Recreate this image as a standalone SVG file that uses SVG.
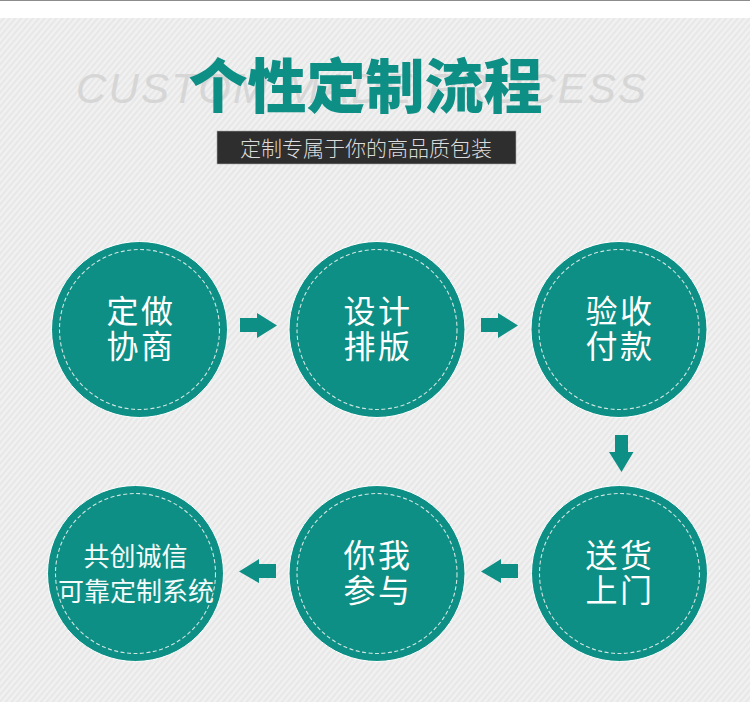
<svg xmlns="http://www.w3.org/2000/svg" width="750" height="728" viewBox="0 0 750 728">
<style>
.cn{font-family:"Noto Sans CJK SC","Noto Sans",sans-serif}
.n{fill:#0d8f85;stroke:#fff;stroke-width:1}
.d{fill:none;stroke:#cfe6e2;stroke-width:1.1;stroke-dasharray:4 2.5}
.t{fill:#fff;font-size:32px;text-anchor:middle;letter-spacing:2.500px;font-weight:400}
.s{fill:#f4fbfa;font-size:26px;text-anchor:middle;font-weight:400}
.a{fill:#0d8f85}
</style>
<defs>
<pattern id="bg" width="4.500" height="4.500" patternUnits="userSpaceOnUse" patternTransform="rotate(-50)">
<rect width="4.500" height="4.500" fill="#f1f1f1"/>
<rect width="4.500" height="2" fill="#e7e7e7"/>
</pattern>
</defs>
<rect width="750" height="728" fill="#fff"/>
<rect width="750" height="1" fill="#8c8c8c"/>
<rect y="18" width="750" height="684" fill="url(#bg)"/>
<g id="header">
<text x="76" y="103" font-family="'Liberation Sans',sans-serif" font-style="italic" font-size="42" fill="#d6d6d6" textLength="570" lengthAdjust="spacing">CUSTOM MADE PROCESS</text>
<text class="cn" x="365.500" y="107.500" font-size="59" font-weight="900" fill="#0d8f85" text-anchor="middle">个性定制流程</text>
<rect x="217" y="131" width="299" height="33" fill="#2e2e2e" stroke="#aaa" stroke-width="0.6"/>
<text class="cn" x="366" y="155.500" font-size="21" font-weight="300" fill="#dcdcdc" text-anchor="middle">定制专属于你的高品质包装</text>
</g>
<g id="node1"><circle class="n" cx="139.500" cy="329.500" r="88"/><circle class="d" cx="139.500" cy="329.500" r="80"/><text class="cn t" x="141" y="323">定做</text><text class="cn t" x="141" y="358">协商</text></g>
<g id="node2"><circle class="n" cx="377" cy="329.500" r="88"/><circle class="d" cx="377" cy="329.500" r="80"/><text class="cn t" x="378" y="323">设计</text><text class="cn t" x="378" y="358">排版</text></g>
<g id="node3"><circle class="n" cx="619" cy="329.500" r="88"/><circle class="d" cx="619" cy="329.500" r="80"/><text class="cn t" x="620" y="323">验收</text><text class="cn t" x="620" y="358">付款</text></g>
<g id="node4"><circle class="n" cx="619.500" cy="573.500" r="88"/><circle class="d" cx="619.500" cy="573.500" r="80"/><text class="cn t" x="620" y="567">送货</text><text class="cn t" x="620" y="602">上门</text></g>
<g id="node5"><circle class="n" cx="377" cy="573.500" r="88"/><circle class="d" cx="377" cy="573.500" r="80"/><text class="cn t" x="378" y="567">你我</text><text class="cn t" x="378" y="602">参与</text></g>
<g id="node6"><circle class="n" cx="135.500" cy="573.500" r="88"/><circle class="d" cx="135.500" cy="573.500" r="80"/><text class="cn s" x="135.500" y="566">共创诚信</text><text class="cn s" x="136" y="601">可靠定制系统</text></g>
<g id="connectors">
<polygon class="a" points="240,318 257,318 257,313 277,325.500 257,338 257,332 240,332"/>
<polygon class="a" points="481,318 498,318 498,313 518,325.500 498,338 498,332 481,332"/>
<polygon class="a" points="615,435 628,435 628,452 633.500,452 621.500,472 609,452 615,452"/>
<polygon class="a" points="518,564 501,564 501,559 481,571.500 501,583 501,578 518,578"/>
<polygon class="a" points="276,564 259,564 259,559 239,571.500 259,583 259,578 276,578"/>
</g>
</svg>
